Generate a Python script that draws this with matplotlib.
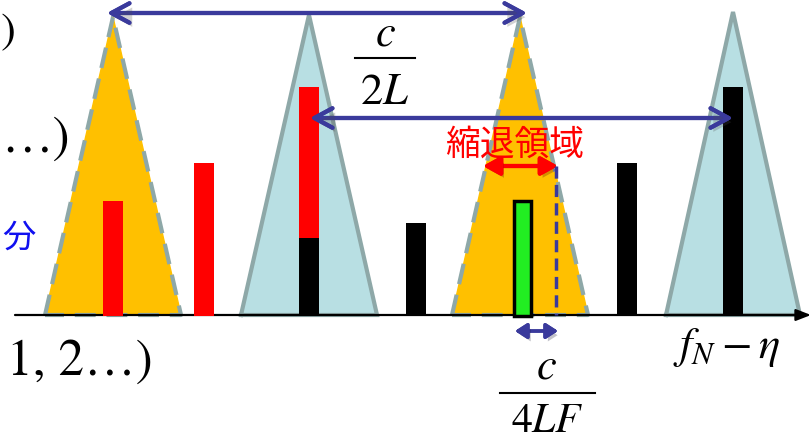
import matplotlib
matplotlib.use('Agg')
import matplotlib.pyplot as plt
import matplotlib.patheffects as pe

plt.rcParams['mathtext.fontset'] = 'stix'

# spectral peaks (triangles): centre, half base width, height
peak_x = [113, 309, 520, 733]
peak_half = [68, 68, 68, 67]
peak_h = [298, 300, 298, 303]
peak_fill = ['#FFC000', '#B8DFE3', '#FFC000', '#B8DFE3']
peak_dash = [True, False, True, False]

# mode lines (bars)
bar_x = [113, 204, 309, 416, 522, 627, 733]
bar_h = [115, 153, 229, 93, 115, 153, 229]
bar_col = ['#FF0000', '#FF0000', '#FF0000', '#000000', '#22EE22', '#000000', '#000000']
split_x = 309
split_h = 78   # black lower part of the red bar

blue = '#3A3A9C'
edge = '#8EA8A8'
shadow = [pe.withSimplePatchShadow(offset=(2, -3), alpha=0.25), pe.Normal()]

fig = plt.figure(figsize=(8.11, 4.45), dpi=100)
ax = fig.add_axes([0, 0, 1, 1])
ax.set_xlim(0, 811)
ax.set_ylim(-130, 315)
ax.axis('off')

for x, hw, h, fc, dsh in zip(peak_x, peak_half, peak_h, peak_fill, peak_dash):
    ax.fill([x - hw, x, x + hw], [0, h, 0], color=fc, zorder=1)
    ax.plot([x - hw, x, x + hw, x - hw], [0, h, 0, 0], color=edge, lw=3,
            ls=(0, (5, 2.6)) if dsh else '-', zorder=2, solid_joinstyle='miter')

# frequency axis
ax.annotate('', xy=(811, 0), xytext=(15, 0),
            arrowprops=dict(arrowstyle='-|>,head_length=0.9,head_width=0.35',
                            color='black', lw=1.6, shrinkA=0, shrinkB=0), zorder=3)

for x, h, c in zip(bar_x, bar_h, bar_col):
    ec = 'black' if c == '#22EE22' else c
    w = 17 if c == '#22EE22' else 20
    ax.bar(x, h, width=w, bottom=-1, color=c, edgecolor=ec,
           linewidth=2.5 if c == '#22EE22' else 0, zorder=4)
ax.bar(split_x, split_h, width=20, bottom=-1, color='black', zorder=5)

# c/2L spacing arrows
ax.annotate('', xy=(107, 302), xytext=(527, 302),
            arrowprops=dict(arrowstyle='<->,head_length=1.3,head_width=0.7',
                            color=blue, lw=3, shrinkA=0, shrinkB=0),
            zorder=6).arrow_patch.set_path_effects(shadow)
ax.annotate('', xy=(310, 197), xytext=(733, 197),
            arrowprops=dict(arrowstyle='<->,head_length=1.3,head_width=0.7',
                            color=blue, lw=3, shrinkA=0, shrinkB=0),
            zorder=6).arrow_patch.set_path_effects(shadow)

# degenerate region
ax.annotate('', xy=(483, 149), xytext=(558, 149),
            arrowprops=dict(arrowstyle='<|-|>,head_length=1.0,head_width=0.55',
                            color='#FF0000', lw=3, shrinkA=0, shrinkB=0),
            zorder=6).arrow_patch.set_path_effects(shadow)
ax.plot([556, 556], [149, 0], color=blue, lw=2.5, ls=(0, (3.5, 1.8)), zorder=6)
ax.annotate('', xy=(515, -16), xytext=(558, -16),
            arrowprops=dict(arrowstyle='<|-|>,head_length=0.7,head_width=0.45',
                            color=blue, lw=2.5, shrinkA=0, shrinkB=0),
            zorder=6).arrow_patch.set_path_effects(shadow)

ax.text(515, 170, '縮退領域', color='#FF0000', fontsize=25,
        family=['Noto Sans CJK JP', 'DejaVu Sans'], ha='center', va='center', zorder=7)

# fractions
ax.text(385, 282, '$c$', fontsize=32, ha='center', va='center', zorder=7)
ax.plot([355, 415], [257, 257], color='black', lw=1.5)
ax.text(385, 224, '$2L$', fontsize=32, ha='center', va='center', zorder=7)

ax.text(546, -51, '$c$', fontsize=32, ha='center', va='center')
ax.plot([500, 595], [-78, -78], color='black', lw=1.5)
ax.text(547, -117, '$4LF$', fontsize=30, ha='center', va='baseline')

ax.text(673, -43, r'$f_N-\eta$', fontsize=32, ha='left', va='baseline')

# left labels (cut off in the source)
serif = ['STIXGeneral', 'DejaVu Serif']
ax.text(7, -60, '1, 2…)', fontsize=37, family=serif, ha='left', va='baseline')
ax.text(1, 163, '…)', fontsize=37, family=serif, ha='left', va='baseline')
ax.text(1, 272, ')', fontsize=32, family=serif, ha='left', va='baseline')
ax.text(2, 77, '分', fontsize=24, color='#1010F0',
        family=['Noto Sans CJK JP', 'DejaVu Sans'], ha='left', va='center')

fig.savefig('out.png', dpi=100)
